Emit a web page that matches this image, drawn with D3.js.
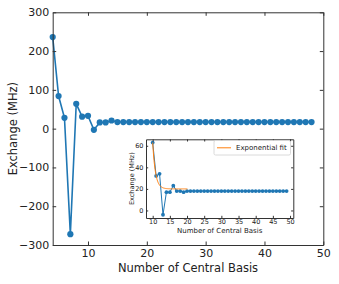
<!DOCTYPE html>
<html>
<head>
<meta charset="utf-8">
<script src="https://cdn.jsdelivr.net/npm/d3@7"></script>
<style>
  body { margin: 0; background: #fff; }
  svg { display: block; font-family: "DejaVu Sans", sans-serif; }
</style>
</head>
<body>
<svg width="339" height="284"></svg>
<script>
// main chart data
var mainBasis = [4, 5, 6, 7, 8, 9, 10, 11, 12, 13, 14, 15, 16, 17, 18, 19, 20, 21, 22, 23, 24, 25, 26,
  27, 28, 29, 30, 31, 32, 33, 34, 35, 36, 37, 38, 39, 40, 41, 42, 43, 44, 45, 46, 47, 48]
var mainExchange = [236, 84, 28, -272, 64, 31, 33, -3, 16, 16, 21, 17, 17, 17, 17, 17, 17, 17, 17, 17,
  17, 17, 17, 17, 17, 17, 17, 17, 17, 17, 17, 17, 17, 17, 17, 17, 17, 17, 17, 17, 17, 17, 17, 17, 17]
var mainXTicks = [10, 20, 30, 40, 50]
var mainYTicks = [-300, -200, -100, 0, 100, 200, 300]

// inset data
var insetBasis = [10, 11, 12, 13, 14, 15, 16, 17, 18, 19, 20, 21, 22, 23, 24, 25, 26, 27, 28, 29,
  30, 31, 32, 33, 34, 35, 36, 37, 38, 39, 40, 41, 42, 43, 44, 45, 46, 47, 48, 49]
var insetExchange = [63, 32, 34, -4, 17, 17, 23, 18, 18, 17, 18, 18, 18, 18, 18, 18, 18, 18, 18, 18,
  18, 18, 18, 18, 18, 18, 18, 18, 18, 18, 18, 18, 18, 18, 18, 18, 18, 18, 18, 18]
var insetXTicks = [10, 15, 20, 25, 30, 35, 40, 45, 50]
var insetYTicks = [0, 20, 40, 60]
// exponential fit  y = c + a * exp(-(x - x0) / tau)
var fitC = 20, fitA = 43, fitX0 = 10, fitTau = 0.8
var fitRange = [10, 20.2]

var blue = '#1f77b4'
var orange = '#ff7f0e'
var spine = '#333'

var svg = d3.select('svg')

function frame(g, x, y, xt, yt, fs, tick, padX, padY) {
    var x0 = x.range()[0], x1 = x.range()[1]
    var y0 = y.range()[0], y1 = y.range()[1]
    g.append('g').attr('transform', `translate(0,${y0})`)
        .call(d3.axisBottom(x).tickValues(xt).tickSize(-tick).tickPadding(padX).tickSizeOuter(0))
    g.append('g').attr('transform', `translate(0,${y1})`)
        .call(d3.axisTop(x).tickValues(xt).tickSize(-tick).tickFormat('').tickSizeOuter(0))
    g.append('g').attr('transform', `translate(${x0},0)`)
        .call(d3.axisLeft(y).tickValues(yt).tickSize(-tick).tickPadding(padY).tickSizeOuter(0)
            .tickFormat(d => String(d).replace('-', '\u2212')))
    g.append('g').attr('transform', `translate(${x1},0)`)
        .call(d3.axisRight(y).tickValues(yt).tickSize(-tick).tickFormat('').tickSizeOuter(0))
    g.selectAll('.domain').attr('stroke', spine)
    g.selectAll('.tick line').attr('stroke', spine)
    g.selectAll('.tick text').attr('fill', '#222').attr('font-size', fs).attr('font-family', '"DejaVu Sans", sans-serif')
}

// ---- main axes
var x = d3.scaleLinear().domain([4, 50]).range([52.7, 323.3])
var y = d3.scaleLinear().domain([-300, 300]).range([245, 12.3])

var main = svg.append('g')
var line = d3.line().x((d, i) => x(mainBasis[i])).y(d => y(d))
main.append('path')
    .datum(mainExchange)
    .attr('d', line)
    .attr('fill', 'none')
    .attr('stroke', blue)
    .attr('stroke-width', 1.6)
main.append('g').selectAll('circle')
    .data(mainExchange)
    .join('circle')
    .attr('cx', (d, i) => x(mainBasis[i]))
    .attr('cy', d => y(d))
    .attr('r', 3.1)
    .attr('fill', blue)

frame(main, x, y, mainXTicks, mainYTicks, 11, 3.5, 4.5, 3.5)

main.append('text')
    .attr('x', (x.range()[0] + x.range()[1]) / 2)
    .attr('y', 272)
    .attr('text-anchor', 'middle')
    .attr('font-size', 11.5)
    .attr('fill', '#222')
    .text('Number of Central Basis')
main.append('text')
    .attr('transform', `translate(17,${(y.range()[0] + y.range()[1]) / 2}) rotate(-90)`)
    .attr('text-anchor', 'middle')
    .attr('font-size', 11.5)
    .attr('fill', '#222')
    .text('Exchange (MHz)')

// ---- inset axes
var ix = d3.scaleLinear().domain([8.05, 50.95]).range([146, 293.3])
var iy = d3.scaleLinear().domain([-7, 66]).range([218, 139.3])

var inset = svg.append('g')
inset.append('rect')
    .attr('x', 146).attr('y', 139.3)
    .attr('width', 293.3 - 146).attr('height', 218 - 139.3)
    .attr('fill', '#fff')

var iline = d3.line().x((d, i) => ix(insetBasis[i])).y(d => iy(d))
inset.append('path')
    .datum(insetExchange)
    .attr('d', iline)
    .attr('fill', 'none')
    .attr('stroke', blue)
    .attr('stroke-width', 1)
inset.append('g').selectAll('circle')
    .data(insetExchange)
    .join('circle')
    .attr('cx', (d, i) => ix(insetBasis[i]))
    .attr('cy', d => iy(d))
    .attr('r', 1.9)
    .attr('fill', blue)

var fitPts = d3.range(fitRange[0], fitRange[1], 0.1).map(v => [v, fitC + fitA * Math.exp(-(v - fitX0) / fitTau)])
inset.append('path')
    .datum(fitPts)
    .attr('d', d3.line().x(d => ix(d[0])).y(d => iy(d[1])))
    .attr('fill', 'none')
    .attr('stroke', orange)
    .attr('stroke-width', 1)

frame(inset, ix, iy, insetXTicks, insetYTicks, 6.5, 2.2, 1.6, 2.5)

inset.append('text')
    .attr('x', (ix.range()[0] + ix.range()[1]) / 2)
    .attr('y', 233)
    .attr('text-anchor', 'middle')
    .attr('font-size', 7)
    .attr('fill', '#222')
    .text('Number of Central Basis')
inset.append('text')
    .attr('transform', `translate(133.5,${(iy.range()[0] + iy.range()[1]) / 2}) rotate(-90)`)
    .attr('text-anchor', 'middle')
    .attr('font-size', 6.5)
    .attr('fill', '#222')
    .text('Exchange (MHz)')

// legend
var lg = inset.append('g')
lg.append('rect')
    .attr('x', 214).attr('y', 140.5)
    .attr('width', 76.5).attr('height', 14.5)
    .attr('rx', 1.5)
    .attr('fill', '#fff')
    .attr('stroke', '#d0d0d0')
    .attr('stroke-width', 0.8)
lg.append('line')
    .attr('x1', 217).attr('x2', 231)
    .attr('y1', 147.8).attr('y2', 147.8)
    .attr('stroke', orange)
    .attr('stroke-width', 1)
lg.append('text')
    .attr('x', 236).attr('y', 150.3)
    .attr('font-size', 7)
    .attr('fill', '#222')
    .text('Exponential fit')
</script>
</body>
</html>
